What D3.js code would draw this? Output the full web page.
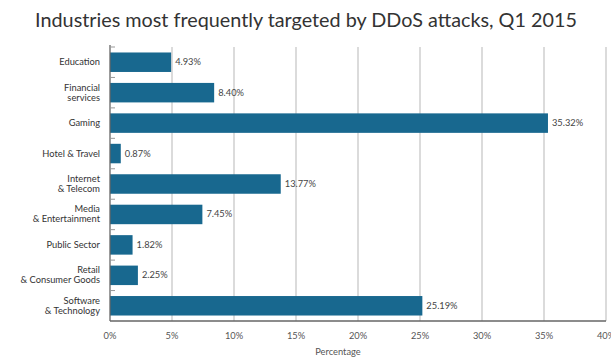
<!DOCTYPE html>
<html><head><meta charset="utf-8">
<script src="https://cdn.jsdelivr.net/npm/d3@7"></script>
<style>body{margin:0;background:#fff}svg{display:block}</style>
</head><body>
<svg id="c" width="611" height="359"></svg>
<script>
const categories = [
  ["Education"],
  ["Financial","services"],
  ["Gaming"],
  ["Hotel & Travel"],
  ["Internet","& Telecom"],
  ["Media","& Entertainment"],
  ["Public Sector"],
  ["Retail","& Consumer Goods"],
  ["Software","& Technology"]
];
const values = [4.93, 8.40, 35.32, 0.87, 13.77, 7.45, 1.82, 2.25, 25.19];
const xTicks = [0,5,10,15,20,25,30,35,40];
const title = "Industries most frequently targeted by DDoS attacks, Q1 2015";
const xLabel = "Percentage";

const svg = d3.select("#c");
const m = {left:110, top:47};
const x = d3.scaleLinear().domain([0,40]).range([m.left, 606]);
const y = d3.scaleBand().domain(d3.range(values.length)).range([m.top, 321]).paddingInner(0.36).paddingOuter(0.18);
const font = "Lato, 'Open Sans', sans-serif";

svg.append("text").attr("x", 306).attr("y", 27).attr("text-anchor","middle")
  .style("font-family", font).style("font-size","19.8px").attr("fill","#333").text(title);

// gridlines
svg.append("g").selectAll("line").data(xTicks.filter(d=>d>0)).join("line")
  .attr("x1", d=>x(d)).attr("x2", d=>x(d)).attr("y1", m.top).attr("y2", 321)
  .attr("stroke","#cfcfcf").attr("stroke-width",1.5);

// bars
svg.append("g").selectAll("rect").data(values).join("rect")
  .attr("x", x(0)).attr("y", (d,i)=>y(i)).attr("width", d=>x(d)-x(0)).attr("height", y.bandwidth())
  .attr("fill","#18688f");

// value labels
svg.append("g").selectAll("text").data(values).join("text")
  .attr("x", d=>x(d)+4).attr("y",(d,i)=>y(i)+y.bandwidth()/2+3)
  .style("font-family", font).style("font-size","9.3px").attr("fill","#444")
  .text(d=>d.toFixed(2)+"%");

// left axis line and ticks at band boundaries
const bounds = d3.range(values.length+1).map(i => m.top + i*(321-m.top)/values.length);
svg.append("line").attr("x1",x(0)).attr("x2",x(0)).attr("y1",m.top-2).attr("y2",321).attr("stroke","#666").attr("stroke-width",1.3);
svg.append("g").selectAll("line").data(bounds.slice(0,-1)).join("line")
  .attr("x1",x(0)).attr("x2",x(0)+5).attr("y1",d=>d).attr("y2",d=>d).attr("stroke","#999").attr("stroke-width",1);
// bottom axis
svg.append("line").attr("x1",x(0)).attr("x2",606).attr("y1",321).attr("y2",321).attr("stroke","#666").attr("stroke-width",1.3);

// category labels
const cl = svg.append("g").selectAll("text").data(categories).join("text")
  .attr("text-anchor","end")
  .style("font-family", font).style("font-size","9.3px").attr("fill","#333");
cl.each(function(lines,i){
  const t = d3.select(this);
  const cy = y(i)+y.bandwidth()/2;
  const lh = 10;
  const y0 = cy - (lines.length-1)*lh/2 + 3;
  lines.forEach((s,j)=>t.append("tspan").attr("x",100).attr("y",y0+j*lh).text(s));
});

// x tick labels
svg.append("g").selectAll("text").data(xTicks).join("text")
  .attr("x", d=>x(d)).attr("y", 339).attr("text-anchor","middle")
  .style("font-family", font).style("font-size","9.3px").attr("fill","#555")
  .text(d=>d+"%");

svg.append("text").attr("x", 338).attr("y", 355).attr("text-anchor","middle")
  .style("font-family", font).style("font-size","9.3px").attr("fill","#555").text(xLabel);
</script>
</body></html>
